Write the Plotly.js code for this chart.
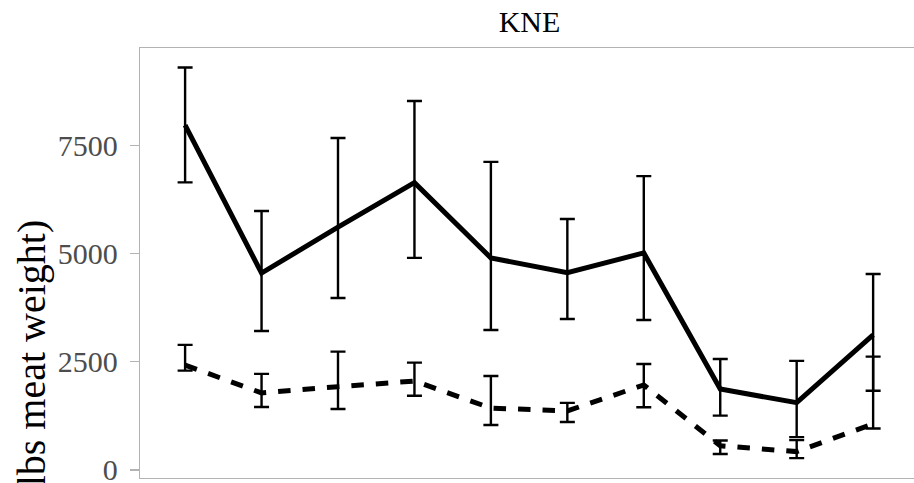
<!DOCTYPE html>
<html>
<head>
<meta charset="utf-8">
<script src="https://cdn.plot.ly/plotly-3.0.1.min.js"></script>
<style>
html, body { margin:0; padding:0; overflow:hidden; background:#fff; width:914px; height:483px; }
#chart { width:930px; height:483px; }
</style>
</head>
<body>
<div id="chart"></div>
<script>
var categories = [1, 2, 3, 4, 5, 6, 7, 8, 9, 10];

var solidMean  = [7970, 4550, 5610, 6640, 4900, 4560, 5015, 1870, 1555, 3120];
var solidUpper = [9300, 5985, 7670, 8525, 7120, 5800, 6790, 2565, 2520, 4530];
var solidLower = [6645, 3210, 3975, 4900, 3235, 3490, 3465, 1255, 760, 1830];

var dashMean  = [2425, 1780, 1925, 2055, 1430, 1365, 1965, 560, 425, 1065];
var dashUpper = [2890, 2220, 2735, 2480, 2170, 1550, 2450, 680, 690, 2620];
var dashLower = [2295, 1455, 1410, 1715, 1040, 1110, 1450, 370, 275, 960];

var yTicks = [0, 2500, 5000, 7500];

function diff(a, b) { return a.map(function (v, i) { return v - b[i]; }); }

var errStyle = { type: 'data', symmetric: false, color: '#000', thickness: 2.4, width: 7.5 };

var traces = [
  {
    x: categories, y: solidMean, type: 'scatter', mode: 'lines',
    line: { color: '#000', width: 5 },
    error_y: Object.assign({}, errStyle, { array: diff(solidUpper, solidMean), arrayminus: diff(solidMean, solidLower) }),
    hoverinfo: 'none'
  },
  {
    x: categories, y: dashMean, type: 'scatter', mode: 'lines',
    line: { color: '#000', width: 5, dash: '12.5px,12px' },
    error_y: Object.assign({}, errStyle, { array: diff(dashUpper, dashMean), arrayminus: diff(dashMean, dashLower) }),
    hoverinfo: 'none'
  }
];

var layout = {
  width: 930, height: 483,
  margin: { l: 140, r: 11, t: 48, b: 5, pad: 0 },
  paper_bgcolor: '#fff', plot_bgcolor: '#fff',
  showlegend: false,
  font: { family: 'Liberation Serif, Times New Roman, serif', color: '#000' },
  title: {
    text: 'KNE',
    font: { family: 'Liberation Serif, Times New Roman, serif', size: 30, color: '#000' },
    x: 0.5, xref: 'paper', xanchor: 'center',
    y: 1 - 21 / 483, yref: 'container', yanchor: 'middle'
  },
  xaxis: {
    range: [0.41, 10.6],
    showgrid: false, zeroline: false,
    showline: true, mirror: true, linecolor: '#b3b3b3', linewidth: 1.3,
    showticklabels: false, ticks: ''
  },
  yaxis: {
    range: [-185, 9750],
    showgrid: false, zeroline: false,
    showline: true, mirror: true, linecolor: '#b3b3b3', linewidth: 1.3,
    tickmode: 'array', tickvals: yTicks, ticktext: yTicks.map(String),
    ticks: 'outside', ticklen: 9, tickwidth: 1.3, tickcolor: '#b3b3b3',
    tickfont: { family: 'Liberation Serif, Times New Roman, serif', size: 30, color: '#4d4d4d' },
    ticklabelstandoff: 6,
    ticklabeloverflow: 'allow'
  },
  annotations: [
    {
      text: 'Landings (lbs meat weight)',
      textangle: -90,
      xref: 'paper', yref: 'paper',
      x: (31 - 140) / 779, xanchor: 'center',
      y: (478 - 218) / 430, yanchor: 'top',
      showarrow: false,
      font: { family: 'Liberation Serif, Times New Roman, serif', size: 40, color: '#000' }
    }
  ]
};

Plotly.newPlot('chart', traces, layout, { staticPlot: true, displayModeBar: false });
</script>
</body>
</html>
